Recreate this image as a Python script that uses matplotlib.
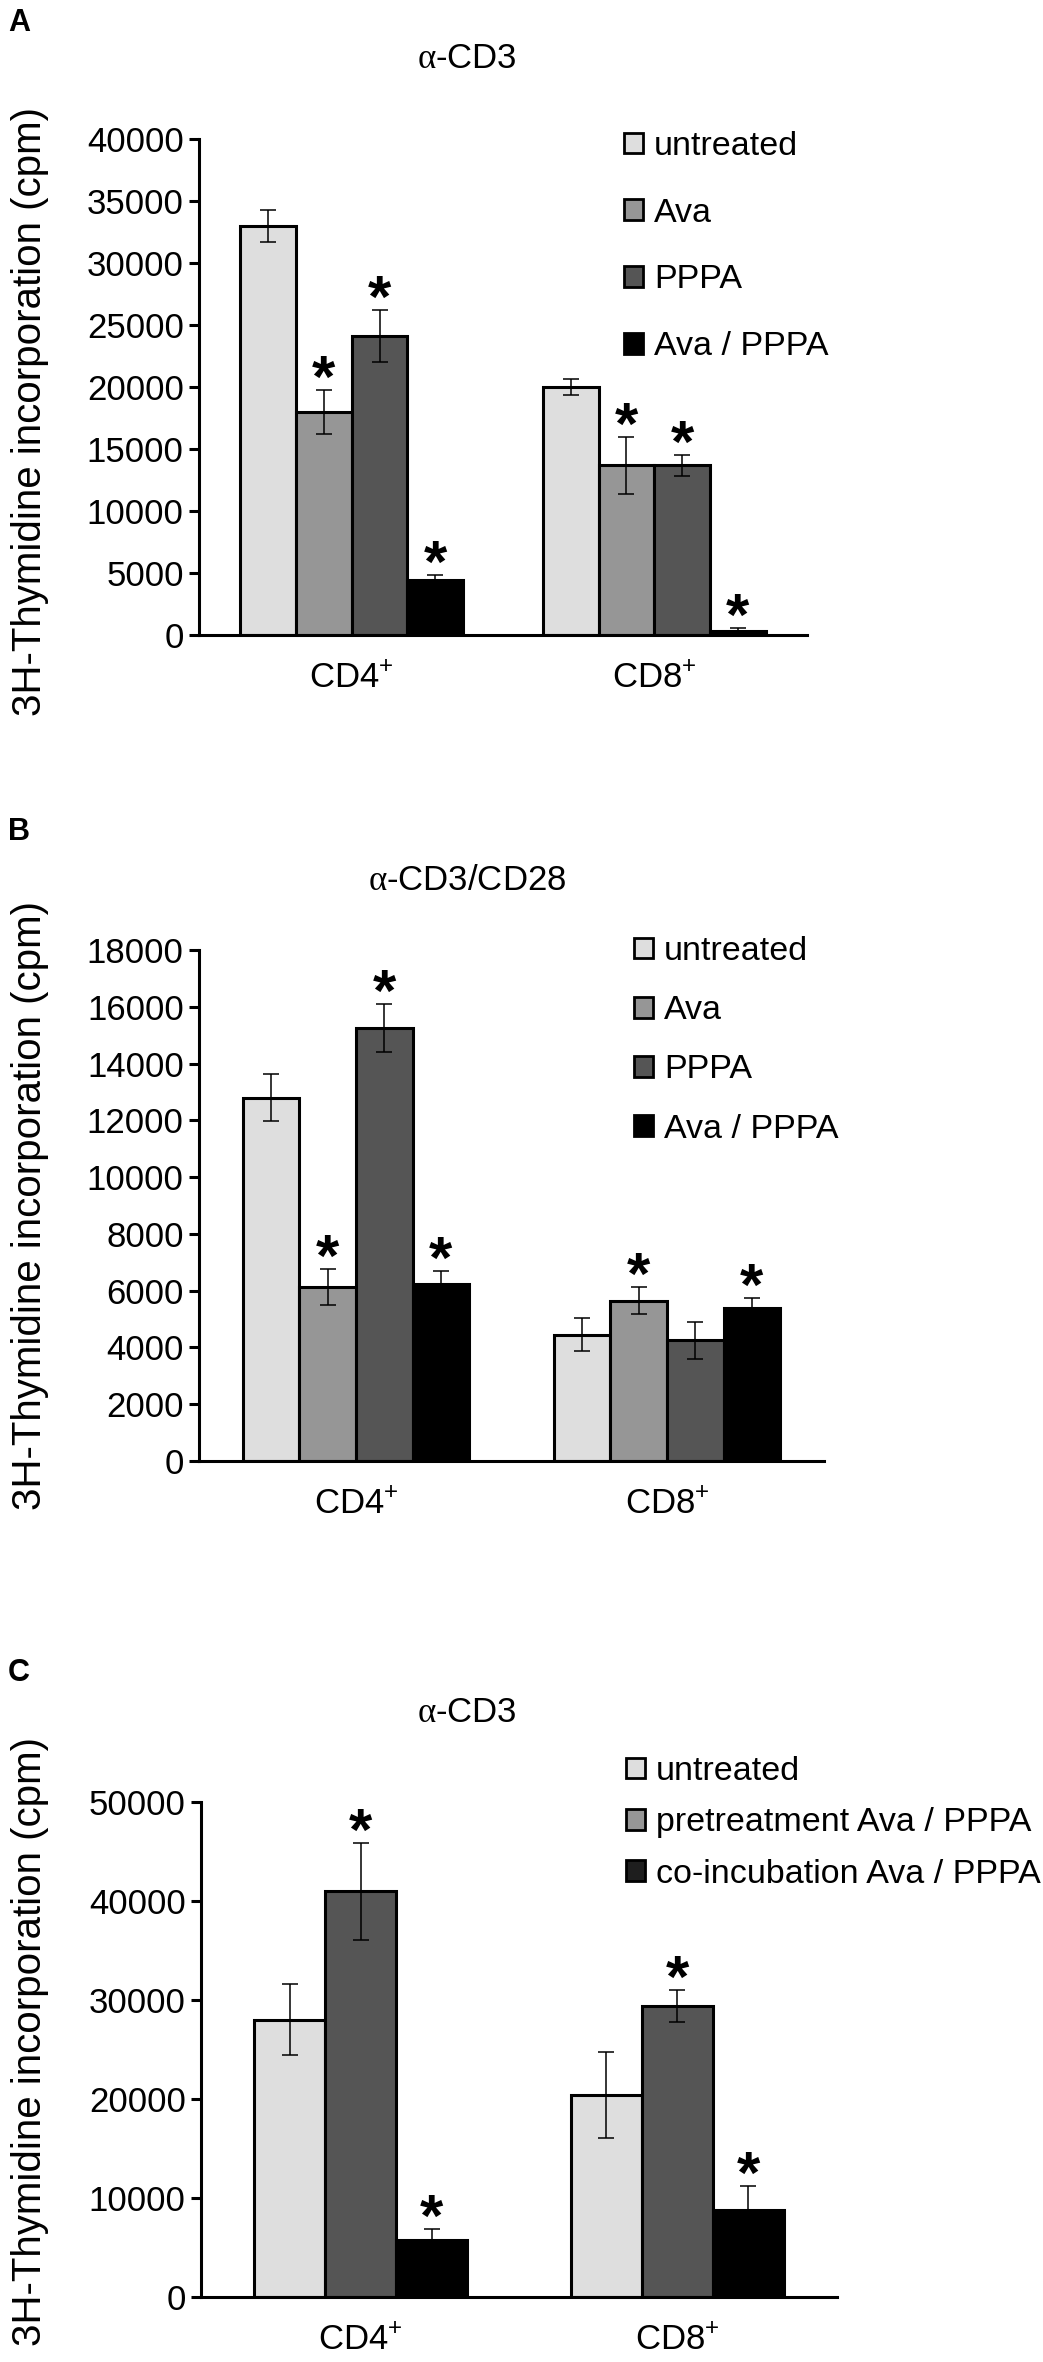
import matplotlib
matplotlib.use("Agg")
import matplotlib.pyplot as plt
from matplotlib.patches import Patch
import numpy as np

plt.rcParams['font.family'] = ['Liberation Sans', 'DejaVu Sans']
plt.rcParams['mathtext.fontset'] = 'custom'
plt.rcParams['mathtext.rm'] = 'Liberation Serif'
plt.rcParams['mathtext.sf'] = 'Liberation Sans'

groups = ['CD4$^{\\mathsf{+}}$', 'CD8$^{\\mathsf{+}}$']

# panel A: alpha-CD3
a_labels = ['untreated', 'Ava', 'PPPA', 'Ava / PPPA']
a_untreated = [33000, 20000]
a_ava = [18000, 13700]
a_pppa = [24100, 13700]
a_both = [4400, 300]
a_err_untreated = [1300, 650]
a_err_ava = [1750, 2300]
a_err_pppa = [2100, 850]
a_err_both = [450, 250]
a_sig_untreated = [False, False]
a_sig_ava = [True, True]
a_sig_pppa = [True, True]
a_sig_both = [True, True]

# panel B: alpha-CD3/CD28
b_labels = ['untreated', 'Ava', 'PPPA', 'Ava / PPPA']
b_untreated = [12800, 4450]
b_ava = [6130, 5650]
b_pppa = [15250, 4250]
b_both = [6250, 5400]
b_err_untreated = [820, 580]
b_err_ava = [650, 470]
b_err_pppa = [850, 650]
b_err_both = [450, 340]
b_sig_untreated = [False, False]
b_sig_ava = [True, True]
b_sig_pppa = [True, False]
b_sig_both = [True, True]

# panel C: alpha-CD3, pretreatment vs co-incubation
c_labels = ['untreated', 'pretreatment Ava / PPPA', 'co-incubation Ava / PPPA']
c_untreated = [28000, 20400]
c_pre = [41000, 29400]
c_co = [5800, 8800]
c_err_untreated = [3600, 4300]
c_err_pre = [4900, 1600]
c_err_co = [1100, 2400]
c_sig_untreated = [False, False]
c_sig_pre = [True, True]
c_sig_co = [True, True]

light = '#dedede'
mid = '#969696'
dark = '#555555'
black = '#000000'

fig = plt.figure(figsize=(10.43, 23.62), dpi=100)
FS = 25      # tick labels
LFS = 24.5   # legend
TFS = 25     # panel titles
YFS = 29     # y label


def panel(rect, series, errs, sigs, colors, width, ymax, ystep):
    ax = fig.add_axes(rect)
    x = np.arange(len(groups))
    n = len(series)
    for i in range(n):
        pos = x + (i - (n - 1) / 2) * width
        ax.bar(pos, series[i], width, color=colors[i], edgecolor='black',
               linewidth=2.2, zorder=2)
        ax.errorbar(pos, series[i], yerr=errs[i], fmt='none', ecolor='black',
                    elinewidth=1.1, capsize=5.8, capthick=1.1, zorder=3)
        for j in range(len(groups)):
            if sigs[i][j]:
                ax.annotate('*', (pos[j], series[i][j] + errs[i][j]),
                            xytext=(0, -5), textcoords='offset points',
                            ha='center', va='baseline', fontsize=43,
                            fontweight='bold', zorder=4)
    ax.set_xlim(-0.505, 1.505)
    ax.set_ylim(0, ymax)
    ax.set_yticks(np.arange(0, ymax + 1, ystep))
    ax.set_xticks(x)
    ax.set_xticklabels(groups)
    for s in ['top', 'right']:
        ax.spines[s].set_visible(False)
    for s in ['left', 'bottom']:
        ax.spines[s].set_linewidth(2.2)
    ax.tick_params(axis='y', length=7, width=2.2, labelsize=FS, pad=4)
    ax.tick_params(axis='x', length=0, labelsize=FS, pad=19)
    return ax


def legend(labels, colors, x, y, spacing):
    handles = [Patch(facecolor=c, edgecolor='black', linewidth=2) for c in colors]
    fig.legend(handles, labels, loc='upper left', bbox_to_anchor=(x, y),
               frameon=False, fontsize=LFS, handlelength=0.56, handleheight=0.56,
               handletextpad=0.32, labelspacing=spacing, borderpad=0,
               borderaxespad=0)


W, H = 1043, 2362
ylab = '3H-Thymidine incorporation (cpm)'

# A
panel([199 / W, 1 - 635 / H, 608 / W, 496 / H],
      [a_untreated, a_ava, a_pppa, a_both],
      [a_err_untreated, a_err_ava, a_err_pppa, a_err_both],
      [a_sig_untreated, a_sig_ava, a_sig_pppa, a_sig_both],
      [light, mid, dark, black], 0.184, 40000, 5000)
legend(a_labels, [light, mid, dark, black], 624 / W, 1 - 131 / H, 1.05)
fig.text(467 / W, 1 - 58 / H, r'$\mathrm{\alpha}$-CD3', ha='center', va='center', fontsize=TFS)
fig.text(8 / W, 1 - 8 / H, 'A', ha='left', va='top', fontsize=22, fontweight='bold')
fig.text(30 / W, 1 - 412 / H, ylab, rotation=90, ha='center', va='center', fontsize=YFS)

# B
panel([199 / W, 1 - 1461 / H, 625 / W, 511 / H],
      [b_untreated, b_ava, b_pppa, b_both],
      [b_err_untreated, b_err_ava, b_err_pppa, b_err_both],
      [b_sig_untreated, b_sig_ava, b_sig_pppa, b_sig_both],
      [light, mid, dark, black], 0.182, 18000, 2000)
legend(b_labels, [light, mid, dark, black], 634 / W, 1 - 936 / H, 0.83)
fig.text(467 / W, 1 - 880 / H, r'$\mathrm{\alpha}$-CD3/CD28', ha='center', va='center', fontsize=TFS)
fig.text(8 / W, 1 - 817 / H, 'B', ha='left', va='top', fontsize=22, fontweight='bold')
fig.text(30 / W, 1 - 1206 / H, ylab, rotation=90, ha='center', va='center', fontsize=YFS)

# C
panel([201 / W, 1 - 2297 / H, 636 / W, 495 / H],
      [c_untreated, c_pre, c_co],
      [c_err_untreated, c_err_pre, c_err_co],
      [c_sig_untreated, c_sig_pre, c_sig_co],
      [light, dark, black], 0.224, 50000, 10000)
legend(c_labels, [light, mid, '#1e1e1e'], 626 / W, 1 - 1756 / H, 0.6)
fig.text(467 / W, 1 - 1712 / H, r'$\mathrm{\alpha}$-CD3', ha='center', va='center', fontsize=TFS)
fig.text(8 / W, 1 - 1658 / H, 'C', ha='left', va='top', fontsize=22, fontweight='bold')
fig.text(30 / W, 1 - 2042 / H, ylab, rotation=90, ha='center', va='center', fontsize=YFS)

fig.savefig('out.png', dpi=100)
